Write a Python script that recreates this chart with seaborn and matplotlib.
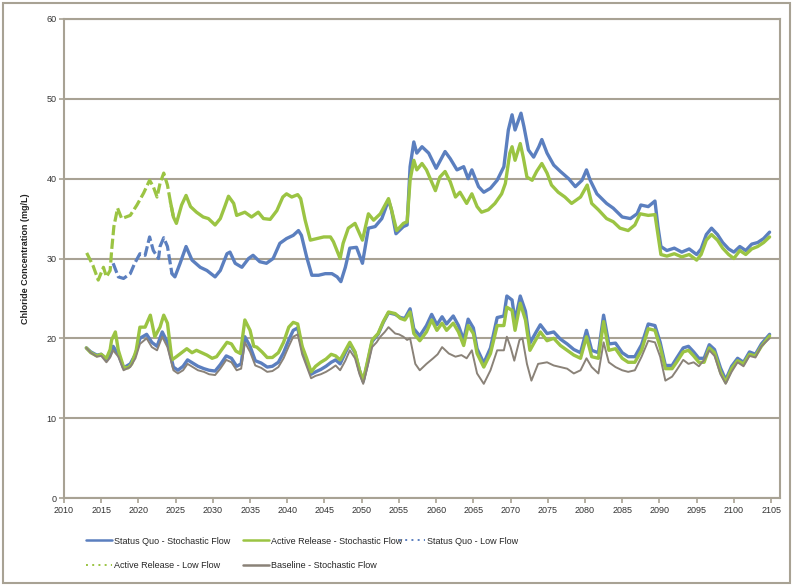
import matplotlib
matplotlib.use("Agg")
import numpy as np
import pandas as pd
import seaborn as sns
import matplotlib.pyplot as plt
from matplotlib.lines import Line2D
from matplotlib.patches import Rectangle

# ---- series data (year, chloride mg/L) ----
sq_stoch_years = [2013.0, 2013.6, 2014.4, 2015.0, 2015.7, 2016.2, 2016.6, 2017.3, 2018.0, 2018.9,
                  2019.6, 2020.2, 2021.1, 2021.8, 2022.5, 2023.2, 2023.9, 2024.7, 2025.3, 2026.0,
                  2026.6, 2027.3, 2028.0, 2028.8, 2029.5, 2030.3, 2031.0, 2031.8, 2032.5, 2033.2,
                  2033.8, 2034.3, 2035.0, 2035.7, 2036.5, 2037.3, 2038.0, 2038.8, 2039.5, 2040.2,
                  2040.8, 2041.4, 2042.0, 2042.6, 2043.2, 2043.8, 2044.5, 2045.2, 2045.9, 2046.5,
                  2047.1, 2047.8, 2048.4, 2049.1, 2049.7, 2050.2, 2050.8, 2051.4, 2052.2, 2052.9,
                  2053.6, 2054.5, 2055.2, 2055.8, 2056.5, 2057.0, 2057.8, 2058.7, 2059.4, 2060.1,
                  2060.8, 2061.4, 2062.3, 2063.0, 2063.7, 2064.3, 2065.0, 2065.5, 2066.4, 2067.3,
                  2068.2, 2069.1, 2069.5, 2070.2, 2070.6, 2071.3, 2072.0, 2072.6, 2073.5, 2074.0,
                  2074.9, 2075.8, 2076.7, 2077.6, 2078.5, 2079.4, 2080.2, 2080.9, 2081.8, 2082.5,
                  2083.2, 2084.1, 2085.0, 2085.8, 2086.7, 2087.6, 2088.5, 2089.4, 2090.1, 2090.8,
                  2091.7, 2092.3, 2093.2, 2093.9, 2094.6, 2095.3, 2096.0, 2096.7, 2097.4, 2098.2,
                  2098.9, 2099.7, 2100.5, 2101.3, 2102.1, 2102.9, 2103.7, 2104.8]
sq_stoch_vals = [18.8, 18.3, 17.9, 18.0, 17.3, 17.9, 19.0, 18.0, 16.3, 16.8,
                 18.0, 20.0, 20.5, 19.5, 19.0, 20.8, 19.5, 16.4, 16.0, 16.5,
                 17.3, 16.9, 16.5, 16.2, 16.0, 15.9, 16.7, 17.8, 17.5, 16.5,
                 16.8, 20.2, 19.0, 17.2, 16.9, 16.4, 16.5, 17.0, 18.2, 19.8,
                 21.0, 21.3, 18.7, 17.0, 15.5, 15.8, 16.1, 16.5, 17.0, 17.3,
                 16.8, 18.2, 19.3, 18.2, 16.0, 14.6, 17.0, 19.6, 20.5, 22.0,
                 23.2, 23.0, 22.6, 22.5, 23.7, 21.2, 20.3, 21.6, 23.0, 21.7,
                 22.7, 21.8, 22.8, 21.6, 19.8, 22.4, 21.3, 18.7, 16.9, 18.8,
                 22.6, 22.8, 25.3, 24.8, 22.2, 25.3, 23.4, 19.4, 20.9, 21.7,
                 20.6, 20.8, 19.9, 19.3, 18.6, 18.2, 21.0, 18.5, 18.2, 22.9,
                 19.3, 19.4, 18.2, 17.7, 17.7, 19.2, 21.8, 21.6, 19.5, 16.6,
                 16.6, 17.5, 18.8, 19.0, 18.3, 17.5, 17.5, 19.2, 18.6, 16.3,
                 14.8, 16.5, 17.5, 17.0, 18.3, 18.0, 19.3, 20.5]

ar_stoch_years = [2013.0, 2013.6, 2014.4, 2015.0, 2015.7, 2016.2, 2016.4, 2016.9, 2017.3, 2018.0,
                  2018.6, 2019.1, 2019.7, 2020.2, 2020.9, 2021.6, 2022.2, 2022.9, 2023.4, 2023.9,
                  2024.5, 2025.1, 2025.8, 2026.5, 2027.2, 2027.8, 2028.5, 2029.2, 2029.9, 2030.5,
                  2031.2, 2031.9, 2032.5, 2033.1, 2033.7, 2034.3, 2035.0, 2035.5, 2035.9, 2036.6,
                  2037.3, 2038.0, 2038.8, 2039.5, 2040.2, 2040.8, 2041.4, 2042.0, 2042.6, 2043.2,
                  2043.8, 2044.5, 2045.2, 2045.9, 2046.5, 2047.1, 2047.8, 2048.4, 2049.1, 2049.7,
                  2050.2, 2050.8, 2051.4, 2052.2, 2052.9, 2053.6, 2054.5, 2055.2, 2055.8, 2056.5,
                  2057.0, 2057.8, 2058.7, 2059.4, 2060.1, 2060.8, 2061.4, 2062.3, 2063.0, 2063.7,
                  2064.3, 2065.0, 2065.5, 2066.4, 2067.3, 2068.2, 2069.1, 2069.5, 2070.2, 2070.6,
                  2071.3, 2072.0, 2072.6, 2073.5, 2074.0, 2074.9, 2075.8, 2076.7, 2077.6, 2078.5,
                  2079.4, 2080.2, 2080.9, 2081.8, 2082.5, 2083.2, 2084.1, 2085.0, 2085.8, 2086.7,
                  2087.6, 2088.5, 2089.4, 2090.1, 2090.8, 2091.7, 2092.3, 2093.2, 2093.9, 2094.6,
                  2095.3, 2096.0, 2096.7, 2097.4, 2098.2, 2098.9, 2099.7, 2100.5, 2101.3, 2102.1,
                  2102.9, 2103.7, 2104.8]
ar_stoch_vals = [18.8, 18.2, 17.8, 18.0, 17.5, 18.6, 19.8, 20.8, 18.5, 16.4,
                 16.3, 16.8, 18.5, 21.4, 21.4, 22.9, 20.2, 21.4, 22.9, 21.9,
                 17.3, 17.7, 18.2, 18.7, 18.2, 18.5, 18.2, 17.9, 17.5, 17.7,
                 18.6, 19.5, 19.3, 18.4, 18.1, 22.3, 21.0, 19.0, 18.9, 18.3,
                 17.6, 17.6, 18.2, 19.5, 21.4, 22.0, 21.8, 19.0, 17.5, 15.8,
                 16.5, 17.0, 17.4, 18.0, 17.8, 17.3, 18.5, 19.5, 18.3, 16.0,
                 14.7, 17.2, 19.8, 20.6, 22.1, 23.3, 23.1, 22.5, 22.3, 23.3,
                 20.6, 19.7, 20.8, 22.3, 21.0, 21.9, 21.0, 21.9, 20.8, 19.1,
                 21.6, 20.6, 18.1, 16.4, 18.1, 21.6, 21.6, 23.9, 23.5, 21.0,
                 24.4, 22.3, 18.5, 20.0, 20.8, 19.7, 20.0, 19.1, 18.5, 17.9,
                 17.5, 20.2, 17.7, 17.5, 22.1, 18.5, 18.7, 17.5, 17.0, 17.0,
                 18.5, 21.2, 21.0, 18.9, 16.2, 16.2, 17.0, 18.3, 18.5, 17.8,
                 17.0, 17.0, 18.8, 18.2, 15.8, 14.5, 16.2, 17.2, 16.8, 18.0,
                 17.8, 19.0, 20.3]

sq_low_years = [2016.6, 2017.3, 2018.0, 2018.9, 2019.5, 2020.2, 2020.9, 2021.5, 2022.0, 2022.7,
                2022.9, 2023.4, 2023.9, 2024.5, 2024.9, 2025.6, 2026.4, 2027.2, 2028.3, 2029.2,
                2030.3, 2031.0, 2031.9, 2032.3, 2033.0, 2033.9, 2034.8, 2035.4, 2036.3, 2037.2,
                2038.1, 2039.0, 2039.9, 2040.8, 2041.5, 2041.9, 2042.6, 2043.3, 2044.2, 2045.1,
                2046.0, 2046.7, 2047.2, 2047.8, 2048.4, 2049.3, 2050.1, 2050.9, 2051.8, 2052.7,
                2053.6, 2054.0, 2054.6, 2055.6, 2056.1, 2056.5, 2057.0, 2057.4, 2058.1, 2059.0,
                2060.0, 2061.2, 2061.9, 2062.8, 2063.7, 2064.3, 2064.8, 2065.7, 2066.4, 2067.3,
                2068.2, 2069.1, 2069.7, 2070.2, 2070.6, 2071.4, 2071.8, 2072.4, 2073.1, 2073.8,
                2074.2, 2074.9, 2075.8, 2076.7, 2077.8, 2078.7, 2079.6, 2080.2, 2080.7, 2081.6,
                2082.9, 2083.8, 2085.0, 2086.1, 2087.0, 2087.5, 2088.5, 2089.4, 2089.8, 2090.2,
                2091.0, 2092.0, 2093.0, 2094.0, 2095.0, 2095.6, 2096.3, 2097.0, 2097.8, 2098.5,
                2099.3, 2100.0, 2100.8, 2101.6, 2102.4, 2103.2, 2104.0, 2104.8]
sq_low_vals = [29.4, 27.7, 27.5, 28.1, 29.4, 30.6, 30.4, 32.7, 31.0, 30.0,
               31.5, 32.6, 31.5, 28.1, 27.7, 29.4, 31.5, 29.8, 28.9, 28.5,
               27.7, 28.5, 30.6, 30.8, 29.4, 28.9, 30.0, 30.4, 29.6, 29.4,
               30.0, 31.9, 32.5, 32.9, 33.5, 32.9, 30.2, 27.9, 27.9, 28.1,
               28.1, 27.7, 27.1, 28.9, 31.3, 31.4, 29.4, 33.8, 34.0, 35.0,
               37.3, 36.1, 33.1, 34.0, 34.2, 41.5, 44.6, 43.2, 44.0, 43.2,
               41.3, 43.4, 42.5, 41.1, 41.5, 40.0, 41.1, 39.0, 38.3, 38.8,
               39.8, 41.5, 46.1, 48.0, 46.1, 48.2, 46.5, 43.6, 42.7, 44.0,
               44.9, 43.2, 41.7, 40.9, 40.0, 39.0, 39.8, 41.1, 39.8, 38.1,
               36.9, 36.3, 35.2, 35.0, 35.6, 36.7, 36.5, 37.2, 34.0, 31.5,
               31.0, 31.3, 30.8, 31.2, 30.5, 31.2, 33.0, 33.8, 33.0, 32.0,
               31.2, 30.8, 31.5, 31.0, 31.8, 32.0, 32.5, 33.3]

ar_low_years = [2013.05, 2013.9, 2014.6, 2015.3, 2015.7, 2016.2, 2016.4, 2016.7, 2017.2, 2017.75,
                2018.9, 2019.8, 2020.7, 2021.5, 2022.0, 2022.5, 2022.9, 2023.4, 2023.9, 2024.3,
                2024.7, 2025.1, 2025.8, 2026.4, 2027.0, 2027.8, 2028.7, 2029.4, 2030.3, 2031.0,
                2031.6, 2032.1, 2032.8, 2033.2, 2034.3, 2035.2, 2036.1, 2036.8, 2037.7, 2038.6,
                2039.4, 2039.9, 2040.6, 2041.4, 2041.8, 2042.4, 2043.1, 2044.0, 2044.9, 2045.8,
                2046.2, 2047.1, 2047.5, 2048.2, 2049.1, 2050.1, 2050.9, 2051.6, 2052.5, 2053.6,
                2054.0, 2054.7, 2055.6, 2056.1, 2056.5, 2057.0, 2057.4, 2058.1, 2058.7, 2059.9,
                2060.5, 2061.2, 2061.9, 2062.6, 2063.2, 2064.1, 2064.8, 2065.5, 2066.1, 2067.0,
                2067.9, 2068.8, 2069.3, 2069.9, 2070.2, 2070.6, 2071.3, 2071.7, 2072.2, 2072.9,
                2073.5, 2074.2, 2074.9, 2075.5, 2076.4, 2077.3, 2078.2, 2079.4, 2080.3, 2080.9,
                2081.8, 2082.9, 2083.8, 2084.7, 2085.8, 2086.7, 2087.4, 2088.5, 2089.4, 2089.8,
                2090.2, 2091.0, 2092.0, 2093.0, 2094.0, 2095.0, 2095.6, 2096.3, 2097.0, 2097.8,
                2098.5, 2099.3, 2100.0, 2100.8, 2101.6, 2102.4, 2103.2, 2104.0, 2104.8]
ar_low_vals = [30.7, 29.1, 27.3, 28.9, 27.7, 28.5, 31.0, 34.0, 36.3, 35.0,
               35.4, 36.7, 38.2, 39.8, 39.0, 37.7, 39.4, 40.7, 39.2, 37.1,
               35.2, 34.4, 36.7, 37.9, 36.5, 35.8, 35.2, 35.0, 34.2, 35.0,
               36.5, 37.8, 36.9, 35.4, 35.8, 35.2, 35.8, 35.0, 34.9, 36.0,
               37.7, 38.1, 37.7, 38.0, 37.5, 34.8, 32.3, 32.5, 32.7, 32.7,
               32.1, 30.0, 31.9, 33.8, 34.4, 32.3, 35.6, 34.8, 35.6, 37.5,
               36.1, 33.5, 34.4, 34.6, 39.8, 42.3, 41.1, 41.9, 41.1, 38.5,
               40.2, 40.9, 39.6, 37.7, 38.3, 36.9, 38.1, 36.5, 35.8, 36.1,
               36.9, 38.1, 39.4, 43.2, 44.0, 42.3, 44.4, 42.7, 40.2, 39.8,
               40.9, 41.9, 40.7, 39.2, 38.3, 37.7, 36.9, 37.7, 39.2, 36.9,
               36.1, 35.0, 34.6, 33.8, 33.5, 34.2, 35.6, 35.4, 35.5, 33.0,
               30.5, 30.3, 30.6, 30.2, 30.5, 29.8, 30.5, 32.3, 33.0, 32.3,
               31.3, 30.5, 30.0, 31.0, 30.5, 31.2, 31.5, 32.0, 32.7]

base_years = [2013.0, 2013.6, 2014.4, 2015.0, 2015.7, 2016.2, 2016.6, 2017.3, 2018.0, 2018.9,
              2019.6, 2020.2, 2021.1, 2021.8, 2022.5, 2023.2, 2023.9, 2024.7, 2025.3, 2026.0,
              2026.6, 2027.3, 2028.0, 2028.8, 2029.5, 2030.3, 2031.0, 2031.8, 2032.5, 2033.2,
              2033.8, 2034.3, 2035.0, 2035.7, 2036.5, 2037.3, 2038.0, 2038.8, 2039.5, 2040.2,
              2040.8, 2041.4, 2042.0, 2042.6, 2043.2, 2043.8, 2044.5, 2045.2, 2045.9, 2046.5,
              2047.1, 2047.8, 2048.4, 2049.1, 2049.7, 2050.2, 2050.8, 2051.4, 2052.0, 2052.5,
              2053.1, 2053.6, 2054.5, 2055.0, 2055.6, 2056.1, 2056.5, 2057.2, 2057.8, 2058.7,
              2059.6, 2060.2, 2060.8, 2061.7, 2062.6, 2063.4, 2064.1, 2064.8, 2065.5, 2066.4,
              2067.3, 2068.2, 2069.1, 2069.5, 2070.0, 2070.5, 2071.2, 2071.6, 2072.2, 2072.8,
              2073.7, 2074.9, 2075.8, 2076.7, 2077.6, 2078.5, 2079.4, 2080.2, 2080.9, 2081.8,
              2082.5, 2083.2, 2084.1, 2085.0, 2085.8, 2086.7, 2087.6, 2088.5, 2089.4, 2090.1,
              2090.8, 2091.7, 2092.3, 2093.2, 2093.9, 2094.6, 2095.3, 2096.0, 2096.7, 2097.4,
              2098.2, 2098.9, 2099.7, 2100.5, 2101.3, 2102.1, 2102.9, 2103.7, 2104.8]
base_vals = [18.8, 18.2, 17.7, 17.8, 17.0, 17.6, 18.5, 17.7, 16.0, 16.4,
             17.5, 19.3, 20.0, 18.9, 18.5, 20.2, 18.9, 16.0, 15.6, 16.0,
             16.8, 16.4, 16.0, 15.8, 15.5, 15.4, 16.2, 17.3, 17.0, 16.0,
             16.2, 19.5, 18.3, 16.6, 16.3, 15.8, 15.9, 16.4, 17.5, 19.0,
             20.2, 20.5, 18.0, 16.5, 15.0, 15.3, 15.5, 15.8, 16.2, 16.6,
             16.0, 17.2, 18.5, 17.5, 15.5, 14.3, 16.5, 18.9, 19.5, 20.2,
             20.8, 21.4, 20.6, 20.5, 20.2, 19.8, 20.0, 16.8, 16.0, 16.8,
             17.5, 18.0, 18.9, 18.1, 17.7, 17.9, 17.5, 18.5, 15.6, 14.3,
             16.0, 18.5, 18.5, 20.2, 18.9, 17.2, 19.8, 20.0, 16.8, 14.7,
             16.8, 17.0, 16.6, 16.4, 16.2, 15.6, 16.0, 17.5, 16.4, 15.6,
             19.5, 17.0, 16.4, 16.0, 15.8, 16.0, 17.7, 19.7, 19.5, 17.7,
             14.7, 15.2, 16.0, 17.3, 16.8, 17.0, 16.5, 17.3, 18.5, 17.8,
             15.5, 14.3, 15.8, 17.0, 16.5, 17.8, 17.6, 19.0, 20.0]

labels = ["Status Quo - Stochastic Flow", "Active Release - Stochastic Flow",
          "Status Quo - Low Flow", "Active Release - Low Flow", "Baseline - Stochastic Flow"]
x_ticks = list(range(2010, 2106, 5))
y_ticks = list(range(0, 61, 10))

BLUE = "#5B7FBF"
GREEN = "#9BC443"
GRAY = "#8A8278"
FRAME = "#A8A294"
W, H = 794, 586

sns.set_theme(style="white")
plt.rcParams["font.family"] = ["Liberation Sans", "DejaVu Sans"]

fig = plt.figure(figsize=(W / 100, H / 100), dpi=100)
ax = fig.add_axes([64 / W, 1 - 498 / H, (780 - 64) / W, (498 - 19) / H])


def draw_low(years, vals, color):
    """Low-flow run: broken strokes over the early years, continuous afterwards."""
    df = pd.DataFrame({"year": years, "val": vals})
    early = df[df["year"] <= 2024.8]
    late = df[df["year"] >= 2024.3]
    sns.lineplot(data=early, x="year", y="val", ax=ax, color=color, linewidth=2.3,
                 linestyle=(0, (3.2, 1.1)), estimator=None, sort=False)
    sns.lineplot(data=late, x="year", y="val", ax=ax, color=color, linewidth=2.4,
                 estimator=None, sort=False)


sns.lineplot(x=sq_stoch_years, y=sq_stoch_vals, ax=ax, color=BLUE, linewidth=2.4,
             estimator=None, sort=False)
draw_low(sq_low_years, sq_low_vals, BLUE)
sns.lineplot(x=ar_stoch_years, y=ar_stoch_vals, ax=ax, color=GREEN, linewidth=2.4,
             estimator=None, sort=False)
draw_low(ar_low_years, ar_low_vals, GREEN)
sns.lineplot(x=base_years, y=base_vals, ax=ax, color=GRAY, linewidth=1.4,
             estimator=None, sort=False)

ax.set_xlim(2010, 2106.2)
ax.set_ylim(0, 60)
ax.set_xticks(x_ticks)
ax.set_yticks(y_ticks)
ax.set_xticklabels([str(t) for t in x_ticks], fontsize=6.5, color="#333333")
ax.set_yticklabels([str(t) for t in y_ticks], fontsize=6.5, color="#333333")
ax.tick_params(axis="both", which="major", direction="out", length=3.5, width=1.2,
               color=FRAME, pad=2)
ax.tick_params(axis="x", bottom=True)
ax.tick_params(axis="y", left=True)
ax.grid(axis="y", color=FRAME, linewidth=1.5)
ax.grid(axis="x", visible=False)
ax.set_axisbelow(True)
for sp in ax.spines.values():
    sp.set_visible(True)
    sp.set_color(FRAME)
    sp.set_linewidth(1.5)
ax.set_xlabel("")
ax.set_ylabel("Chloride Concentration (mg/L)", fontsize=6.5, fontweight="bold",
              color="#222222", labelpad=12)

# legend entries, each placed at its own spot below the plot
legend_handles = [Line2D([], [], color=BLUE, lw=1.8),
                  Line2D([], [], color=GREEN, lw=1.8),
                  Line2D([], [], color=BLUE, lw=1.4, linestyle=(0, (1, 2.2))),
                  Line2D([], [], color=GREEN, lw=1.4, linestyle=(0, (1, 2.2))),
                  Line2D([], [], color=GRAY, lw=1.8)]
legend_spots = [(86, 541), (243, 541), (399, 541), (86, 566), (243, 566)]
for h, lab, (lx, ly) in zip(legend_handles, labels, legend_spots):
    fig.legend([h], [lab], loc="center left", bbox_to_anchor=(lx / W, 1 - ly / H),
               frameon=False, fontsize=6.5, handlelength=2.9, handletextpad=0.2,
               borderpad=0, borderaxespad=0)

fig.patches.append(Rectangle((2.5 / W, 3 / H), 787 / W, 580 / H,
                             transform=fig.transFigure, fill=False,
                             edgecolor=FRAME, linewidth=1.5))

fig.savefig("out.png", dpi=100)
